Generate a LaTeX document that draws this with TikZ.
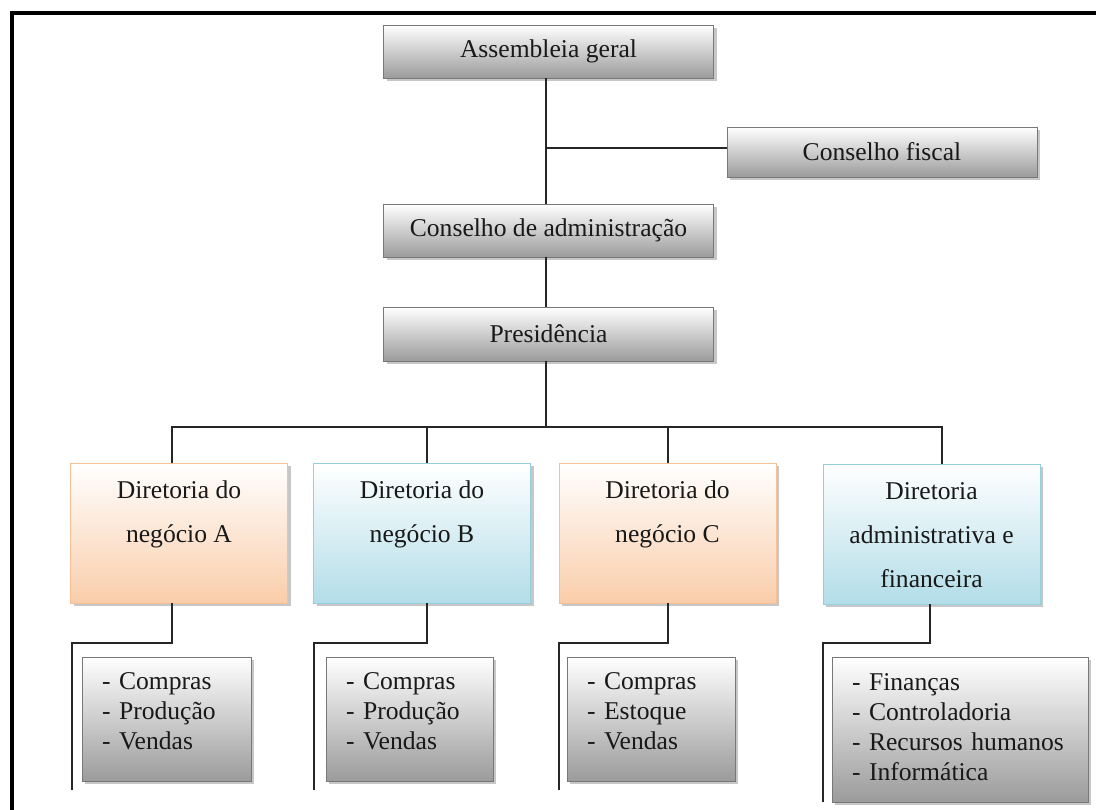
\documentclass[tikz,border=0pt]{standalone}
\usepackage{fontspec}
\setmainfont{Liberation Serif}
\usetikzlibrary{shadows,calc}
\definecolor{grayedge}{RGB}{120,120,120}
\definecolor{graybot}{RGB}{155,155,155}
\definecolor{orangeedge}{RGB}{245,192,152}
\definecolor{orangebot}{RGB}{249,205,170}
\definecolor{blueedge}{RGB}{150,206,220}
\definecolor{bluebot}{RGB}{178,221,232}
\newcommand\rs{\rule[-13pt]{0pt}{44pt}}
\newcommand\ls{\rule[-9pt]{0pt}{30pt}}
\begin{document}
\begin{tikzpicture}[x=1pt,y=-1pt,
  shad/.style={drop shadow={shadow xshift=3pt,shadow yshift=-3pt,fill=black!22,opacity=1}},
  gbox/.style={draw=grayedge,line width=0.9pt,top color=white,bottom color=graybot,shad,
    inner sep=0pt,font=\fontsize{25.6}{30}\selectfont,align=center,text=black!90},
  topbox/.style={gbox,minimum width=330pt,minimum height=53pt},
  obox/.style={draw=orangeedge,line width=0.9pt,top color=white,bottom color=orangebot,shad,
    inner sep=0pt,font=\fontsize{25.6}{44}\selectfont,align=center,minimum width=217pt,minimum height=140pt,text=black!90},
  bbox/.style={obox,draw=blueedge,bottom color=bluebot},
  subbox/.style={gbox,align=left,minimum height=124pt},
  conn/.style={line width=1.3pt,draw=black!85},
  frame/.style={line width=4pt,draw=black}
]
\useasboundingbox (0,0) rectangle (1096,810);
\begin{scope}
\clip (0,0) rectangle (1096,810);
\draw[frame] (12,13) rectangle (1120,840);
\end{scope}

% top boxes
\node[topbox] (ag)   at (548.5,51.5)  {Assembleia geral};
\node[topbox,minimum width=310pt,minimum height=50pt] (cf) at (882,152) {Conselho fiscal};
\node[topbox] (cda)  at (548.5,230.5) {Conselho de administração};
\node[topbox,minimum height=54pt] (pres) at (548.5,334) {Presidência};

% directorates
\node[obox] (dA) at (179,533)   {Diretoria do\rs\\negócio A\rs\\\rs};
\node[bbox] (dB) at (422,533)   {Diretoria do\rs\\negócio B\rs\\\rs};
\node[obox] (dC) at (667.5,533) {Diretoria do\rs\\negócio C\rs\\\rs};
\node[bbox] (dD) at (931.5,534) {Diretoria\rs\\administrativa e\rs\\financeira\rs};

% sub boxes
\node[subbox,minimum width=169pt,text width=129pt] (sA) at (166.5,719)
  {- Compras\ls\\- Produção\ls\\- Vendas\ls\rule[-20pt]{0pt}{0pt}};
\node[subbox,minimum width=167pt,text width=127pt] (sB) at (409.5,719)
  {- Compras\ls\\- Produção\ls\\- Vendas\ls\rule[-20pt]{0pt}{0pt}};
\node[subbox,minimum width=168pt,text width=128pt] (sC) at (651,719)
  {- Compras\ls\\- Estoque\ls\\- Vendas\ls\rule[-20pt]{0pt}{0pt}};
\node[subbox,minimum width=256pt,minimum height=145pt,text width=216pt] (sD) at (960,729.5)
  {- Finanças\ls\\- Controladoria\ls\\- Recursos humanos\ls\\- Informática\ls};

% coordinates
\coordinate (j)   at (546,148);
\coordinate (bus) at (546,427);
\coordinate (eA) at (72,790);
\coordinate (eB) at (314,790);
\coordinate (eC) at (559,790);
\coordinate (eD) at (823,802);

% connectors
\draw[conn] ($(ag.south)+(-2.5,0)$) -- ($(cda.north)+(-2.5,0)$);
\draw[conn] (j) -- (j -| cf.west);
\draw[conn] ($(cda.south)+(-2.5,0)$) -- ($(pres.north)+(-2.5,0)$);
\draw[conn] ($(pres.south)+(-2.5,0)$) -- (bus);
\draw[conn] ($(dA.north)+(-7,0)$) |- (bus);
\draw[conn] ($(dB.north)+(5,0)$) |- (bus);
\draw[conn] ($(dC.north)+(0.5,0)$) |- (bus);
\draw[conn] ($(dD.north)+(10.5,0)$) |- (bus);

\draw[conn] ($(dA.south)+(-7,0)$) |- (eA |- 0,643) -- (eA);
\draw[conn] ($(dB.south)+(5,0)$) |- (eB |- 0,643) -- (eB);
\draw[conn] ($(dC.south)+(0.5,0)$) |- (eC |- 0,643) -- (eC);
\draw[conn] ($(dD.south)+(-1.5,0)$) |- (eD |- 0,643) -- (eD);
\end{tikzpicture}
\end{document}
